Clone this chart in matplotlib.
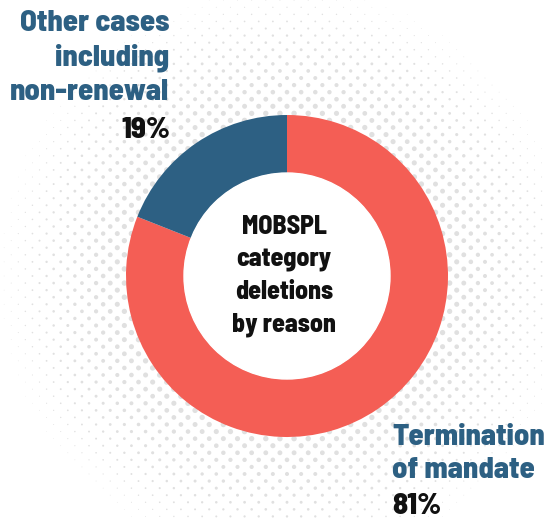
import numpy as np
import matplotlib.pyplot as plt

reasons = ['Termination\nof mandate', 'Other cases\nincluding\nnon-renewal']
shares = [81, 19]
colors = ['#f45e55', '#2d6083']
label_blue = '#2d6083'
font = ['Barlow Semi Condensed', 'DejaVu Sans']
weight = 800

W, H = 547, 522
cx, cy = 287, H - 276
R, ring = 161, 58

fig = plt.figure(figsize=(W / 100, H / 100), dpi=100)
ax = fig.add_axes([0, 0, 1, 1])

# halftone halo behind the ring
step = 10.0
g = np.arange(-40, 41) * step
gx, gy = np.meshgrid(g, g)
ang = np.deg2rad(45)
px = cx + gx * np.cos(ang) - gy * np.sin(ang)
py = cy + gx * np.sin(ang) + gy * np.cos(ang)
dist = np.hypot(px - cx, py - cy)
diam = 5.5 * (1 - (dist - R) / 140)
keep = (dist > R - 2) & (diam > 0.5) & (px > -5) & (px < W + 5) & (py > -5) & (py < H + 5)
ax.scatter(px[keep], py[keep], s=(diam[keep] * 0.72) ** 2, color='#e0e0e0',
           linewidths=0, zorder=1)

ax.pie(shares, colors=colors, startangle=90, counterclock=False,
       center=(cx, cy), radius=R, frame=True,
       wedgeprops=dict(width=ring, linewidth=0, zorder=2))
ax.add_patch(plt.Circle((cx, cy), R - ring, color='white', zorder=3))

ax.set_xlim(0, W)
ax.set_ylim(0, H)
ax.set_aspect('equal')
ax.axis('off')

# centre title
ax.text(284, H - 276, 'MOBSPL\ncategory\ndeletions\nby reason', ha='center', va='center',
        fontsize=18.5, fontweight=weight, family=font, color='#111111',
        linespacing=1.45, zorder=4)

# slice labels
ax.text(169, H - 58, reasons[1], ha='right', va='center', fontsize=22,
        fontweight=weight, family=font, color=label_blue, linespacing=1.33, zorder=4)
ax.text(170, H - 131, f'{shares[1]}%', ha='right', va='center', fontsize=22,
        fontweight=weight, family=font, color='#111111', zorder=4)

ax.text(392, H - 454, reasons[0], ha='left', va='center', fontsize=22,
        fontweight=weight, family=font, color=label_blue, linespacing=1.3, zorder=4)
ax.text(392, H - 507, f'{shares[0]}%', ha='left', va='center', fontsize=22,
        fontweight=weight, family=font, color='#111111', zorder=4)

fig.savefig('out.png', dpi=100)
